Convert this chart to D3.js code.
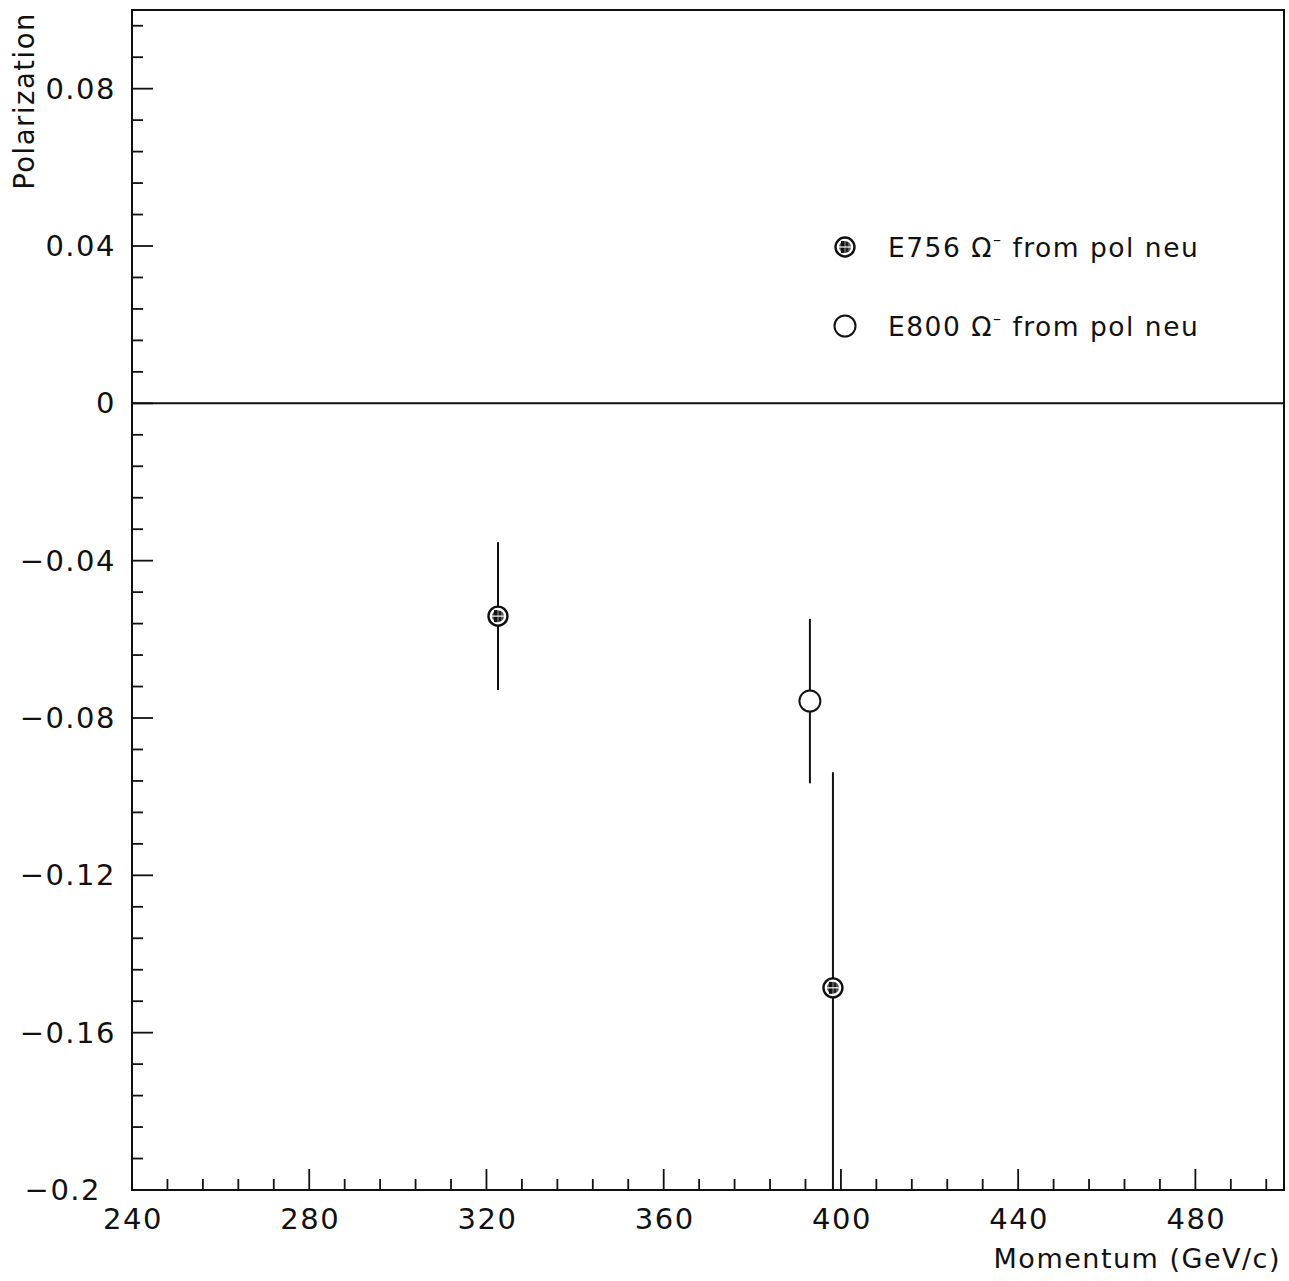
<!DOCTYPE html>
<html>
<head>
<meta charset="utf-8">
<style>
body { margin: 0; background: #fff; }
text { font-family: "DejaVu Sans", sans-serif; fill: #111; letter-spacing: 1.5px; }
</style>
</head>
<body>
<div id="diagram"></div>
<script src="https://cdn.jsdelivr.net/npm/d3@7"></script>
<script>

// E756 omega- points
var e756_p   = [ 322.6, 398.2 ];
var e756_pol = [ -0.0541, -0.1486 ];
var e756_err = [ 0.0188, 0.0548 ];

// E800 omega- points
var e800_p   = [ 393.0 ];
var e800_pol = [ -0.0757 ];
var e800_err = [ 0.0209 ];

var x_major = [ 240, 280, 320, 360, 400, 440, 480 ];
var y_major = [ -0.2, -0.16, -0.12, -0.08, -0.04, 0, 0.04, 0.08 ];

var legend_labels = [ "E756", "E800" ];

var canvas_size = { width: 1289, height: 1281 };
var frame = { left: 132, right: 1284, top: 10, bottom: 1190 };

var svg = d3.select( '#diagram' )
	.append( 'svg' )
		.attr( 'width', canvas_size.width )
		.attr( 'height', canvas_size.height );

var x = d3.scaleLinear().domain( [240, 500] ).range( [frame.left, frame.right] );
var y = d3.scaleLinear().domain( [-0.2, 0.1] ).range( [frame.bottom, frame.top] );

svg.append( 'defs' ).append( 'clipPath' ).attr( 'id', 'plotclip' )
	.append( 'rect' )
		.attr( 'x', frame.left ).attr( 'y', frame.top )
		.attr( 'width', frame.right - frame.left )
		.attr( 'height', frame.bottom - frame.top );

function fmt( v )
{
	if( Math.abs(v) < 1e-9 ) return "0";
	var s = String( +v.toFixed(3) );
	return s.replace( '-', '\u2212' );
}

// minor ticks
var x_minor = d3.range( 248, 500, 8 ).filter( function(d) { return (d - 240) % 40 != 0; } );
var y_minor = d3.range( -0.192, 0.1, 0.008 ).filter( function(d) { return Math.abs( Math.round(d/0.04)*0.04 - d ) > 1e-6; } );

var ticks = svg.append( 'g' ).attr( 'stroke', '#111' ).attr( 'stroke-width', 1.8 );

ticks.selectAll( '.xmaj' ).data( x_major ).enter().append( 'line' )
	.attr( 'x1', function(d) { return x(d); } ).attr( 'x2', function(d) { return x(d); } )
	.attr( 'y1', frame.bottom ).attr( 'y2', frame.bottom - 21 );
ticks.selectAll( '.xmin' ).data( x_minor ).enter().append( 'line' )
	.attr( 'x1', function(d) { return x(d); } ).attr( 'x2', function(d) { return x(d); } )
	.attr( 'y1', frame.bottom ).attr( 'y2', frame.bottom - 11 );
ticks.selectAll( '.ymaj' ).data( y_major ).enter().append( 'line' )
	.attr( 'y1', function(d) { return y(d); } ).attr( 'y2', function(d) { return y(d); } )
	.attr( 'x1', frame.left ).attr( 'x2', frame.left + 21 );
ticks.selectAll( '.ymin' ).data( y_minor ).enter().append( 'line' )
	.attr( 'y1', function(d) { return y(d); } ).attr( 'y2', function(d) { return y(d); } )
	.attr( 'x1', frame.left ).attr( 'x2', frame.left + 11 );

// zero line
svg.append( 'line' )
	.attr( 'x1', frame.left ).attr( 'x2', frame.right )
	.attr( 'y1', y(0) ).attr( 'y2', y(0) )
	.attr( 'stroke', '#111' ).attr( 'stroke-width', 2 );

// frame
svg.append( 'rect' )
	.attr( 'x', frame.left ).attr( 'y', frame.top )
	.attr( 'width', frame.right - frame.left ).attr( 'height', frame.bottom - frame.top )
	.attr( 'fill', 'none' ).attr( 'stroke', '#111' ).attr( 'stroke-width', 2 );

// tick labels
svg.selectAll( '.xlab' ).data( x_major ).enter().append( 'text' )
	.attr( 'x', function(d) { return x(d) + 1; } ).attr( 'y', 1229 )
	.attr( 'text-anchor', 'middle' ).attr( 'font-size', 29 )
	.text( function(d) { return d; } );

// the bottom label sits a bit left, clear of the 240
svg.selectAll( '.ylab' ).data( y_major ).enter().append( 'text' )
	.attr( 'x', function(d) { return d == -0.2 ? 101 : 116; } )
	.attr( 'y', function(d) { return y(d) + 10; } )
	.attr( 'text-anchor', 'end' ).attr( 'font-size', 29 )
	.text( fmt );

// axis titles
svg.append( 'text' )
	.attr( 'x', 1281 ).attr( 'y', 1268 )
	.attr( 'text-anchor', 'end' ).attr( 'font-size', 27 )
	.text( 'Momentum (GeV/c)' );

svg.append( 'text' )
	.attr( 'transform', 'translate(34,12) rotate(-90)' )
	.attr( 'text-anchor', 'end' ).attr( 'font-size', 27.5 )
	.text( 'Polarization' );

// data
var e756 = e756_p.map( function(d, i) { return { p: d, pol: e756_pol[i], err: e756_err[i] }; } );
var e800 = e800_p.map( function(d, i) { return { p: d, pol: e800_pol[i], err: e800_err[i] }; } );

var plot = svg.append( 'g' ).attr( 'clip-path', 'url(#plotclip)' );

function error_bars( data )
{
	plot.selectAll( null ).data( data ).enter().append( 'line' )
		.attr( 'x1', function(d) { return x(d.p); } ).attr( 'x2', function(d) { return x(d.p); } )
		.attr( 'y1', function(d) { return y(d.pol + d.err); } )
		.attr( 'y2', function(d) { return y(d.pol - d.err); } )
		.attr( 'stroke', '#111' ).attr( 'stroke-width', 2 );
}
error_bars( e756 );
error_bars( e800 );

function hatched_marker( g, cx, cy )
{
	g.append( 'circle' ).attr( 'cx', cx ).attr( 'cy', cy ).attr( 'r', 9.5 )
		.attr( 'fill', '#fff' ).attr( 'stroke', '#111' ).attr( 'stroke-width', 2.4 );
	g.append( 'circle' ).attr( 'cx', cx ).attr( 'cy', cy ).attr( 'r', 6 )
		.attr( 'fill', '#555' );
	g.append( 'line' ).attr( 'x1', cx - 2.5 ).attr( 'x2', cx - 2.5 ).attr( 'y1', cy - 6 ).attr( 'y2', cy + 6 )
		.attr( 'stroke', '#111' ).attr( 'stroke-width', 3 );
	g.append( 'line' ).attr( 'x1', cx + 2 ).attr( 'x2', cx + 2 ).attr( 'y1', cy - 5 ).attr( 'y2', cy + 5 )
		.attr( 'stroke', '#111' ).attr( 'stroke-width', 1.5 );
	g.append( 'line' ).attr( 'x1', cx - 6 ).attr( 'x2', cx + 6 ).attr( 'y1', cy ).attr( 'y2', cy )
		.attr( 'stroke', '#fff' ).attr( 'stroke-width', 1.2 );
}

function open_marker( g, cx, cy )
{
	g.append( 'circle' ).attr( 'cx', cx ).attr( 'cy', cy ).attr( 'r', 10.5 )
		.attr( 'fill', '#fff' ).attr( 'stroke', '#111' ).attr( 'stroke-width', 2 );
}

e756.forEach( function(d) { hatched_marker( plot, x(d.p), y(d.pol) ); } );
e800.forEach( function(d) { open_marker( plot, x(d.p), y(d.pol) ); } );

// legend
var legend = svg.append( 'g' );
var legend_y = [ 247, 326 ];
hatched_marker( legend, 845, legend_y[0] );
open_marker( legend, 845, legend_y[1] );

legend_labels.forEach( function( lab, i )
{
	var t = legend.append( 'text' )
		.attr( 'x', 888 ).attr( 'y', legend_y[i] + 10 )
		.attr( 'font-size', 26.5 );
	t.append( 'tspan' ).text( lab + ' \u03A9' );
	t.append( 'tspan' ).attr( 'dy', -12 ).attr( 'font-size', 16 ).text( '\u2013' );
	t.append( 'tspan' ).attr( 'dy', 12 ).text( ' from pol neu' );
});

</script>
</body>
</html>
